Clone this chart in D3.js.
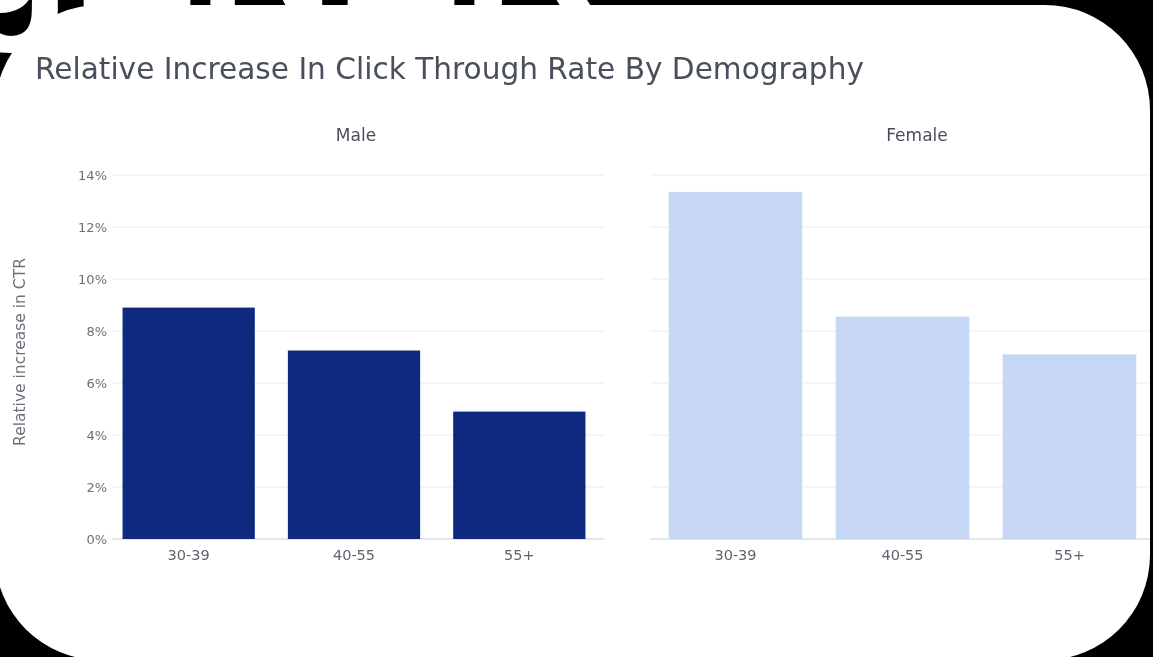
<!DOCTYPE html>
<html>
<head>
<meta charset="utf-8">
<script src="https://cdn.jsdelivr.net/npm/d3@7"></script>
<style>
  html, body { margin: 0; padding: 0; background: #000; }
  svg { display: block; }
  .chart text { font-family: "DejaVu Sans", Verdana, sans-serif; }
</style>
</head>
<body>
<svg id="root" width="1153" height="657"></svg>
<script>
// ---- data ----
const categories = ["30-39", "40-55", "55+"];
const panelNames = ["Male", "Female"];
const maleValues = [8.9, 7.25, 4.9];
const femaleValues = [13.35, 8.55, 7.1];
const yTickValues = [0, 2, 4, 6, 8, 10, 12, 14];
const titleText = "Relative Increase In Click Through Rate By Demography";
const yAxisTitle = "Relative increase in CTR";
const bannerText = "gENER";

// ---- layout ----
const W = 1153, H = 657;
const svg = d3.select("#root");
const defs = svg.append("defs");

defs.append("clipPath").attr("id", "cardClip")
  .append("rect")
  .attr("x", -5).attr("y", 5)
  .attr("width", 1155).attr("height", 655)
  .attr("rx", 105).attr("ry", 105);

defs.append("filter").attr("id", "soft")
  .append("feGaussianBlur").attr("stdDeviation", 0.45);

svg.append("rect").attr("width", W).attr("height", H).attr("fill", "#000");

// large cropped white heading above the card
svg.append("text")
  .attr("x", -45).attr("y", 13)
  .attr("font-family", "Liberation Sans, Arial, sans-serif")
  .attr("font-weight", "bold")
  .attr("font-size", 190)
  .attr("fill", "#fff")
  .text(bannerText);

// white rounded card
svg.append("rect")
  .attr("x", -5).attr("y", 5)
  .attr("width", 1155).attr("height", 655)
  .attr("rx", 105).attr("ry", 105)
  .attr("fill", "#fff");

const g = svg.append("g").attr("class", "chart")
  .attr("clip-path", "url(#cardClip)")
  .append("g").attr("filter", "url(#soft)");

g.append("text")
  .attr("x", 35).attr("y", 79)
  .attr("font-size", 29.6)
  .attr("fill", "#4a4f5c")
  .text(titleText);

const y = d3.scaleLinear().domain([0, 14]).range([539, 175]);

const panels = [
  { name: panelNames[0], values: maleValues, range: [106, 602], grid: [112, 604], titleX: 356, color: "#10297f", showY: true },
  { name: panelNames[1], values: femaleValues, range: [652, 1153], grid: [650, 1153], titleX: 917, color: "#c6d6f5", showY: false }
];

panels.forEach(p => {
  const x = d3.scaleBand().domain(categories).range(p.range).paddingInner(0.2).paddingOuter(0.1);
  const pg = g.append("g");

  // gridlines
  pg.selectAll("line.grid").data(yTickValues).join("line")
    .attr("class", "grid")
    .attr("x1", p.grid[0]).attr("x2", p.grid[1])
    .attr("y1", d => y(d)).attr("y2", d => y(d))
    .attr("stroke", d => d === 0 ? "#e3e6ec" : "#f0f2f6")
    .attr("stroke-width", d => d === 0 ? 2 : 1.5);

  // bars
  pg.selectAll("rect.bar").data(p.values).join("rect")
    .attr("class", "bar")
    .attr("x", (d, i) => x(categories[i]))
    .attr("width", x.bandwidth())
    .attr("y", d => y(d))
    .attr("height", d => y(0) - y(d))
    .attr("fill", p.color);

  // x axis
  const xa = pg.append("g").attr("transform", `translate(0,${y(0) + 5})`)
    .call(d3.axisBottom(x).tickSize(0).tickPadding(6));
  xa.select(".domain").remove();
  xa.selectAll("text").attr("font-size", 14.5).attr("fill", "#5f6470")
    .attr("font-family", "DejaVu Sans, sans-serif");

  // subplot title
  pg.append("text")
    .attr("x", p.titleX)
    .attr("y", 141)
    .attr("text-anchor", "middle")
    .attr("font-size", 17)
    .attr("fill", "#4a4f5c")
    .text(p.name);

  if (p.showY) {
    const ya = pg.append("g").attr("transform", `translate(${p.grid[0] - 5},0)`)
      .call(d3.axisLeft(y).tickValues(yTickValues).tickSize(0).tickPadding(0).tickFormat(d => d + "%"));
    ya.select(".domain").remove();
    ya.selectAll("text").attr("font-size", 13).attr("fill", "#6a6f7a")
      .attr("font-family", "DejaVu Sans, sans-serif");
  }
});

g.append("text")
  .attr("transform", `translate(25,352) rotate(-90)`)
  .attr("text-anchor", "middle")
  .attr("font-size", 15.5)
  .attr("fill", "#6a6f7a")
  .text(yAxisTitle);
</script>
</body>
</html>
